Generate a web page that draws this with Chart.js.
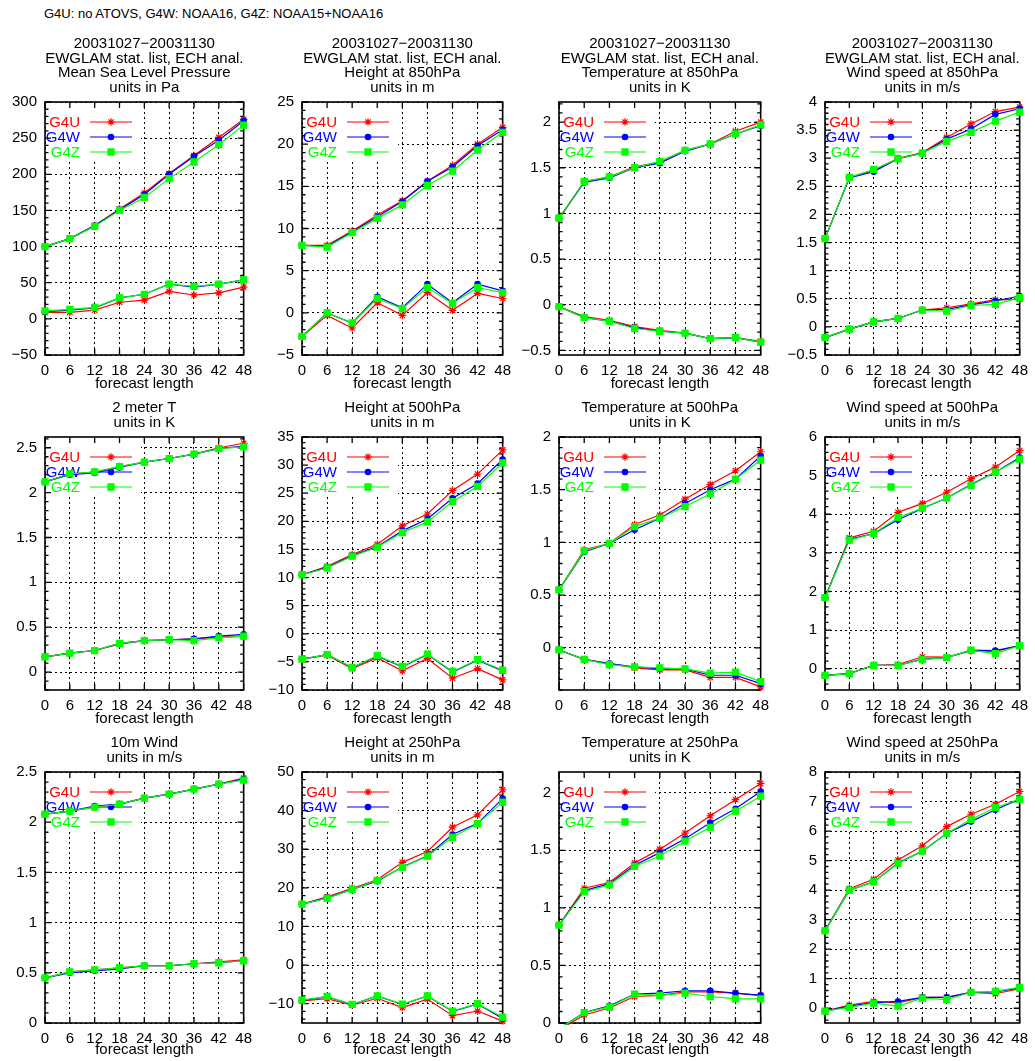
<!DOCTYPE html>
<html>
<head>
<meta charset="utf-8">
<title>G4U / G4W / G4Z verification</title>
<script src="https://cdn.jsdelivr.net/npm/chart.js@4.4.1/dist/chart.umd.min.js"></script>
<style>
    body {
        margin: 0;
        width: 1035px;
        height: 1061px;
        position: relative;
        overflow: hidden;
        background: #fff;
        font-family: "Liberation Sans", Arial, sans-serif;
    }
    #header {
        position: absolute;
        left: 44px;
        top: 6px;
        font-size: 13px;
        line-height: 16px;
        color: #000;
    }
    canvas {
        position: absolute;
    }
</style>
</head>
<body>
<div id="header">G4U: no ATOVS, G4W: NOAA16, G4Z: NOAA15+NOAA16</div>
<script>
// forecast length (hours)
const leadTimes = [0, 6, 12, 18, 24, 30, 36, 42, 48];

// Mean Sea Level Pressure, Pa (upper curves = rms, lower curves = bias)
const mslpRmsG4U = [100, 111, 129, 152, 174, 201, 226, 251, 276];
const mslpRmsG4W = [100, 111, 129, 151, 172, 200, 225, 247, 274];
const mslpRmsG4Z = [100, 111, 128, 150, 168, 194, 217, 241, 268];
const mslpBiasG4U = [9, 9, 12, 23, 26, 38, 33, 36, 44];
const mslpBiasG4W = [10, 12, 15, 29, 34, 48, 44, 48, 54];
const mslpBiasG4Z = [11, 13, 16, 29, 34, 48, 45, 48, 54];

// Height at 850hPa, m
const z850RmsG4U = [8.0, 8.0, 9.7, 11.6, 13.3, 15.6, 17.5, 20.0, 22.0];
const z850RmsG4W = [8.0, 7.9, 9.6, 11.4, 13.2, 15.6, 17.3, 19.8, 21.7];
const z850RmsG4Z = [8.0, 7.8, 9.5, 11.2, 12.8, 15.1, 16.8, 19.3, 21.4];
const z850BiasG4U = [-2.8, -0.3, -1.8, 1.2, -0.3, 2.4, 0.3, 2.3, 1.7];
const z850BiasG4W = [-2.8, 0.0, -1.2, 1.9, 0.6, 3.4, 1.2, 3.4, 2.6];
const z850BiasG4Z = [-2.8, 0.0, -1.2, 1.7, 0.5, 3.0, 1.1, 3.0, 2.4];

// Temperature at 850hPa, K
const t850RmsG4U = [0.94, 1.35, 1.40, 1.51, 1.56, 1.69, 1.76, 1.90, 2.00];
const t850RmsG4W = [0.95, 1.34, 1.39, 1.50, 1.55, 1.68, 1.76, 1.87, 1.96];
const t850RmsG4Z = [0.95, 1.35, 1.40, 1.50, 1.57, 1.69, 1.76, 1.87, 1.97];
const t850BiasG4U = [-0.02, -0.13, -0.17, -0.24, -0.28, -0.31, -0.37, -0.36, -0.40];
const t850BiasG4W = [-0.02, -0.14, -0.18, -0.25, -0.29, -0.31, -0.37, -0.36, -0.41];
const t850BiasG4Z = [-0.02, -0.14, -0.18, -0.26, -0.29, -0.31, -0.37, -0.36, -0.41];

// Wind speed at 850hPa, m/s
const ff850RmsG4U = [1.57, 2.66, 2.78, 3.00, 3.10, 3.37, 3.61, 3.83, 3.91];
const ff850RmsG4W = [1.57, 2.65, 2.76, 2.99, 3.09, 3.34, 3.52, 3.78, 3.88];
const ff850RmsG4Z = [1.57, 2.66, 2.80, 2.99, 3.09, 3.30, 3.46, 3.66, 3.82];
const ff850BiasG4U = [-0.19, -0.04, 0.09, 0.15, 0.30, 0.34, 0.41, 0.48, 0.49];
const ff850BiasG4W = [-0.19, -0.04, 0.09, 0.15, 0.30, 0.31, 0.39, 0.46, 0.55];
const ff850BiasG4Z = [-0.19, -0.04, 0.09, 0.15, 0.30, 0.28, 0.38, 0.40, 0.52];

// 2 meter T, K
const t2mRmsG4U = [2.12, 2.21, 2.23, 2.29, 2.34, 2.38, 2.43, 2.50, 2.55];
const t2mRmsG4W = [2.12, 2.20, 2.22, 2.28, 2.34, 2.38, 2.43, 2.49, 2.52];
const t2mRmsG4Z = [2.12, 2.21, 2.23, 2.29, 2.34, 2.38, 2.43, 2.49, 2.51];
const t2mBiasG4U = [0.17, 0.21, 0.24, 0.31, 0.35, 0.36, 0.37, 0.39, 0.40];
const t2mBiasG4W = [0.17, 0.21, 0.24, 0.32, 0.35, 0.36, 0.37, 0.40, 0.42];
const t2mBiasG4Z = [0.17, 0.21, 0.24, 0.32, 0.35, 0.36, 0.35, 0.38, 0.40];

// Height at 500hPa, m
const z500RmsG4U = [10.5, 12.0, 14.1, 15.9, 19.2, 21.3, 25.5, 28.4, 32.7];
const z500RmsG4W = [10.5, 11.8, 13.9, 15.5, 18.3, 20.4, 24.1, 26.7, 31.0];
const z500RmsG4Z = [10.5, 11.7, 13.8, 15.4, 18.0, 19.9, 23.5, 26.2, 30.4];
const z500BiasG4U = [-4.5, -3.8, -6.2, -4.3, -6.6, -4.4, -7.9, -6.2, -8.2];
const z500BiasG4W = [-4.5, -3.7, -6.0, -4.0, -5.9, -3.7, -6.8, -4.7, -6.6];
const z500BiasG4Z = [-4.5, -3.7, -6.0, -3.9, -5.8, -3.6, -6.7, -4.6, -6.5];

// Temperature at 500hPa, K
const t500RmsG4U = [0.55, 0.93, 0.99, 1.17, 1.26, 1.41, 1.55, 1.68, 1.86];
const t500RmsG4W = [0.55, 0.91, 0.99, 1.12, 1.23, 1.37, 1.50, 1.60, 1.82];
const t500RmsG4Z = [0.55, 0.92, 0.99, 1.15, 1.23, 1.34, 1.46, 1.60, 1.78];
const t500BiasG4U = [-0.02, -0.11, -0.15, -0.19, -0.21, -0.21, -0.28, -0.28, -0.37];
const t500BiasG4W = [-0.02, -0.11, -0.15, -0.18, -0.20, -0.20, -0.26, -0.26, -0.34];
const t500BiasG4Z = [-0.02, -0.11, -0.16, -0.18, -0.19, -0.20, -0.24, -0.23, -0.32];

// Wind speed at 500hPa, m/s
const ff500RmsG4U = [1.84, 3.39, 3.56, 4.05, 4.28, 4.57, 4.92, 5.22, 5.65];
const ff500RmsG4W = [1.84, 3.35, 3.50, 3.86, 4.15, 4.42, 4.77, 5.09, 5.47];
const ff500RmsG4Z = [1.84, 3.33, 3.50, 3.91, 4.16, 4.42, 4.75, 5.09, 5.43];
const ff500BiasG4U = [-0.17, -0.12, 0.09, 0.11, 0.31, 0.30, 0.46, 0.45, 0.60];
const ff500BiasG4W = [-0.17, -0.13, 0.09, 0.09, 0.25, 0.29, 0.48, 0.47, 0.60];
const ff500BiasG4Z = [-0.17, -0.13, 0.09, 0.09, 0.24, 0.29, 0.48, 0.39, 0.60];

// 10m Wind, m/s
const ff10mRmsG4U = [2.08, 2.11, 2.15, 2.18, 2.24, 2.28, 2.33, 2.38, 2.44];
const ff10mRmsG4W = [2.08, 2.11, 2.16, 2.18, 2.24, 2.28, 2.33, 2.38, 2.43];
const ff10mRmsG4Z = [2.08, 2.11, 2.15, 2.18, 2.24, 2.28, 2.33, 2.38, 2.42];
const ff10mBiasG4U = [0.45, 0.51, 0.53, 0.55, 0.57, 0.57, 0.59, 0.61, 0.63];
const ff10mBiasG4W = [0.45, 0.50, 0.52, 0.54, 0.57, 0.57, 0.59, 0.60, 0.62];
const ff10mBiasG4Z = [0.45, 0.51, 0.53, 0.55, 0.57, 0.57, 0.59, 0.60, 0.62];

// Height at 250hPa, m
const z250RmsG4U = [15.8, 17.7, 19.9, 22.1, 26.6, 29.4, 35.7, 38.9, 45.4];
const z250RmsG4W = [15.8, 17.4, 19.6, 21.7, 25.4, 28.3, 33.8, 36.7, 43.1];
const z250RmsG4Z = [15.8, 17.3, 19.6, 21.9, 25.3, 28.2, 33.1, 36.6, 42.2];
const z250BiasG4U = [-9.3, -8.7, -10.4, -8.6, -11.0, -8.8, -13.1, -11.9, -14.5];
const z250BiasG4W = [-9.2, -8.2, -10.2, -8.0, -10.2, -8.0, -12.0, -10.1, -13.8];
const z250BiasG4Z = [-9.1, -8.1, -10.2, -8.0, -10.1, -8.0, -11.9, -10.0, -13.5];

// Temperature at 250hPa, K
const t250RmsG4U = [0.85, 1.17, 1.22, 1.39, 1.51, 1.65, 1.80, 1.94, 2.08];
const t250RmsG4W = [0.85, 1.15, 1.21, 1.37, 1.48, 1.60, 1.74, 1.86, 2.01];
const t250RmsG4Z = [0.85, 1.14, 1.20, 1.36, 1.45, 1.58, 1.70, 1.84, 1.97];
const t250BiasG4U = [-0.06, 0.07, 0.13, 0.23, 0.24, 0.27, 0.27, 0.26, 0.24];
const t250BiasG4W = [-0.05, 0.09, 0.15, 0.25, 0.26, 0.28, 0.28, 0.26, 0.24];
const t250BiasG4Z = [-0.05, 0.09, 0.14, 0.25, 0.24, 0.26, 0.23, 0.21, 0.21];

// Wind speed at 250hPa, m/s
const ff250RmsG4U = [2.62, 4.05, 4.37, 5.02, 5.50, 6.15, 6.57, 6.91, 7.34];
const ff250RmsG4W = [2.62, 4.00, 4.28, 4.92, 5.32, 5.92, 6.32, 6.72, 7.08];
const ff250RmsG4Z = [2.62, 4.00, 4.28, 4.90, 5.32, 5.92, 6.40, 6.79, 7.08];
const ff250BiasG4U = [-0.10, 0.11, 0.23, 0.18, 0.37, 0.37, 0.54, 0.49, 0.66];
const ff250BiasG4W = [-0.10, 0.07, 0.19, 0.23, 0.37, 0.37, 0.54, 0.55, 0.69];
const ff250BiasG4Z = [-0.10, 0.03, 0.17, 0.07, 0.34, 0.29, 0.54, 0.57, 0.71];

const expNames = ['G4U', 'G4W', 'G4Z'];
const expColors = ['#ff0000', '#0000ff', '#00ff00'];
const expPoints = ['star', 'circle', 'rect'];
const expRadius = [3.8, 2.7, 4.3];

const period = '20031027\u221220031130';
const listName = 'EWGLAM stat. list, ECH anal.';

// title lines, rms G4U/G4W/G4Z, bias G4U/G4W/G4Z, y range and tick step
const panels = [
    {title: [period, listName, 'Mean Sea Level Pressure', 'units in Pa'],
        rms: [mslpRmsG4U, mslpRmsG4W, mslpRmsG4Z], bias: [mslpBiasG4U, mslpBiasG4W, mslpBiasG4Z], min: -50, max: 300, step: 50},
    {title: [period, listName, 'Height at 850hPa', 'units in m'],
        rms: [z850RmsG4U, z850RmsG4W, z850RmsG4Z], bias: [z850BiasG4U, z850BiasG4W, z850BiasG4Z], min: -5, max: 25, step: 5},
    {title: [period, listName, 'Temperature at 850hPa', 'units in K'],
        rms: [t850RmsG4U, t850RmsG4W, t850RmsG4Z], bias: [t850BiasG4U, t850BiasG4W, t850BiasG4Z], min: -0.55, max: 2.22, step: 0.5},
    {title: [period, listName, 'Wind speed at 850hPa', 'units in m/s'],
        rms: [ff850RmsG4U, ff850RmsG4W, ff850RmsG4Z], bias: [ff850BiasG4U, ff850BiasG4W, ff850BiasG4Z], min: -0.5, max: 4, step: 0.5},
    {title: ['2 meter T', 'units in K'],
        rms: [t2mRmsG4U, t2mRmsG4W, t2mRmsG4Z], bias: [t2mBiasG4U, t2mBiasG4W, t2mBiasG4Z], min: -0.2, max: 2.62, step: 0.5},
    {title: ['Height at 500hPa', 'units in m'],
        rms: [z500RmsG4U, z500RmsG4W, z500RmsG4Z], bias: [z500BiasG4U, z500BiasG4W, z500BiasG4Z], min: -10, max: 35, step: 5},
    {title: ['Temperature at 500hPa', 'units in K'],
        rms: [t500RmsG4U, t500RmsG4W, t500RmsG4Z], bias: [t500BiasG4U, t500BiasG4W, t500BiasG4Z], min: -0.4, max: 2, step: 0.5},
    {title: ['Wind speed at 500hPa', 'units in m/s'],
        rms: [ff500RmsG4U, ff500RmsG4W, ff500RmsG4Z], bias: [ff500BiasG4U, ff500BiasG4W, ff500BiasG4Z], min: -0.55, max: 6, step: 1},
    {title: ['10m Wind', 'units in m/s'],
        rms: [ff10mRmsG4U, ff10mRmsG4W, ff10mRmsG4Z], bias: [ff10mBiasG4U, ff10mBiasG4W, ff10mBiasG4Z], min: 0, max: 2.5, step: 0.5},
    {title: ['Height at 250hPa', 'units in m'],
        rms: [z250RmsG4U, z250RmsG4W, z250RmsG4Z], bias: [z250BiasG4U, z250BiasG4W, z250BiasG4Z], min: -15, max: 50, step: 10},
    {title: ['Temperature at 250hPa', 'units in K'],
        rms: [t250RmsG4U, t250RmsG4W, t250RmsG4Z], bias: [t250BiasG4U, t250BiasG4W, t250BiasG4Z], min: 0, max: 2.18, step: 0.5},
    {title: ['Wind speed at 250hPa', 'units in m/s'],
        rms: [ff250RmsG4U, ff250RmsG4W, ff250RmsG4Z], bias: [ff250BiasG4U, ff250BiasG4W, ff250BiasG4Z], min: -0.5, max: 8, step: 1},
];

// page geometry of the 4x3 grid: canvas box and plot frame
const cols = [
    {x: 0, w: 259, left: 45, right: 250},
    {x: 259, w: 259, left: 302, right: 508},
    {x: 517, w: 259, left: 559, right: 767},
    {x: 776, w: 259, left: 825, right: 1023},
];
const rows = [
    {y: 30, h: 365, top: 102, bottom: 355, padTop: 6.6},
    {y: 395, h: 335, top: 437, bottom: 690, padTop: 5.6},
    {y: 730, h: 331, top: 772, bottom: 1023, padTop: 5.6},
];
const LINE_H = 14.7;
const FONT = '"Liberation Sans", Arial, sans-serif';
const FS = 15;

Chart.defaults.font.family = FONT;
Chart.defaults.font.size = FS;
Chart.defaults.color = '#000';

function fmt(v) {
    return String(Number(v.toFixed(4))).replace('-', '\u2212');
}

// gnuplot style frame: border, in-pointing tics, key in top-left corner
const gnuFrame = {
    id: 'gnuFrame',
    beforeDatasetsDraw(chart, args, opts) {
        const {ctx, chartArea: a, scales: {x, y}} = chart;
        ctx.save();

        // key area hides the grid behind it
        ctx.fillStyle = '#fff';
        ctx.fillRect(a.left + 1, a.top + 1, 95, 56);

        ctx.strokeStyle = '#000';
        ctx.lineWidth = 1.6;
        ctx.strokeRect(a.left, a.top, a.right - a.left, a.bottom - a.top);

        ctx.lineWidth = 1.3;
        ctx.beginPath();
        const minor = opts.step / 5;
        const k0 = Math.ceil(y.min / minor - 1e-6);
        for (let k = k0; k * minor <= y.max + 1e-9; k++) {
            const py = y.getPixelForValue(k * minor);
            const len = (k % 5 === 0) ? 6 : 3.5;
            ctx.moveTo(a.left, py);
            ctx.lineTo(a.left + len, py);
            ctx.moveTo(a.right, py);
            ctx.lineTo(a.right - len, py);
        }
        for (let i = 0; i < chart.data.labels.length; i++) {
            const px = x.getPixelForValue(i);
            ctx.moveTo(px, a.bottom);
            ctx.lineTo(px, a.bottom - 6);
            ctx.moveTo(px, a.top);
            ctx.lineTo(px, a.top + 6);
        }
        ctx.stroke();

        // key
        ctx.font = FS + 'px ' + FONT;
        ctx.textAlign = 'right';
        ctx.textBaseline = 'middle';
        for (let i = 0; i < expNames.length; i++) {
            const ky = a.top + 20 + i * 15;
            ctx.fillStyle = expColors[i];
            ctx.strokeStyle = expColors[i];
            ctx.fillText(expNames[i], a.left + 35, ky + 1);
            ctx.lineWidth = 1.1;
            ctx.beginPath();
            ctx.moveTo(a.left + 45, ky);
            ctx.lineTo(a.left + 87, ky);
            ctx.stroke();
            ctx.lineWidth = 1.2;
            if (Chart.helpers && Chart.helpers.drawPoint) {
                Chart.helpers.drawPoint(ctx, {
                    pointStyle: expPoints[i], radius: expRadius[i], rotation: 0, borderWidth: 1.2
                }, a.left + 66, ky);
            }
        }
        ctx.restore();
    }
};

function makePanel(p, idx) {
    const col = cols[idx % 4];
    const row = rows[Math.floor(idx / 4)];

    const cv = document.createElement('canvas');
    cv.width = col.w;
    cv.height = row.h;
    cv.style.left = col.x + 'px';
    cv.style.top = row.y + 'px';
    document.body.appendChild(cv);

    const padBottom = row.top - row.y - row.padTop - p.title.length * LINE_H;

    const datasets = [];
    expNames.forEach((name, k) => {
        [p.rms[k], p.bias[k]].forEach(values => {
            datasets.push({
                label: name,
                data: values,
                borderColor: expColors[k],
                backgroundColor: expColors[k],
                pointBackgroundColor: expColors[k],
                pointBorderColor: expColors[k],
                pointStyle: expPoints[k],
                pointRadius: expRadius[k],
                pointBorderWidth: 1.2,
                borderWidth: 1.2,
                tension: 0,
                order: 3 - k,
                clip: {left: 8, right: 8, top: 8, bottom: 2}
            });
        });
    });

    new Chart(cv, {
        type: 'line',
        data: {labels: leadTimes.map(String), datasets: datasets},
        plugins: [gnuFrame],
        options: {
            responsive: false,
            animation: false,
            devicePixelRatio: 1,
            events: [],
            layout: {padding: {left: 0, top: 0, bottom: 0, right: col.x + col.w - col.right}},
            plugins: {
                legend: {display: false},
                tooltip: {enabled: false},
                title: {
                    display: true,
                    fullSize: false,
                    text: p.title,
                    color: '#000',
                    font: {size: FS, weight: 'normal', lineHeight: LINE_H + 'px'},
                    padding: {top: row.padTop, bottom: padBottom}
                },
                gnuFrame: {step: p.step}
            },
            scales: {
                x: {
                    type: 'category',
                    offset: false,
                    grid: {color: '#000', lineWidth: 1, drawTicks: false},
                    border: {display: false, dash: [2, 3]},
                    ticks: {padding: 7, autoSkip: false, maxRotation: 0, font: {size: FS}},
                    title: {display: true, text: 'forecast length', font: {size: FS, lineHeight: 1.1}, padding: {top: 0, bottom: 3}},
                    afterFit: s => { s.height = row.h - (row.bottom - row.y); }
                },
                y: {
                    min: p.min,
                    max: p.max,
                    grid: {color: '#000', lineWidth: 1, drawTicks: false},
                    border: {display: false, dash: [2, 3]},
                    ticks: {padding: 8, font: {size: FS}, callback: v => fmt(v)},
                    afterBuildTicks: s => {
                        const list = [];
                        const k0 = Math.ceil(p.min / p.step - 1e-6);
                        for (let k = k0; k * p.step <= p.max + 1e-9; k++) {
                            list.push({value: Number((k * p.step).toFixed(6))});
                        }
                        s.ticks = list;
                    },
                    afterFit: s => { s.width = col.left - col.x; }
                }
            }
        }
    });
}

panels.forEach(makePanel);
</script>
</body>
</html>
